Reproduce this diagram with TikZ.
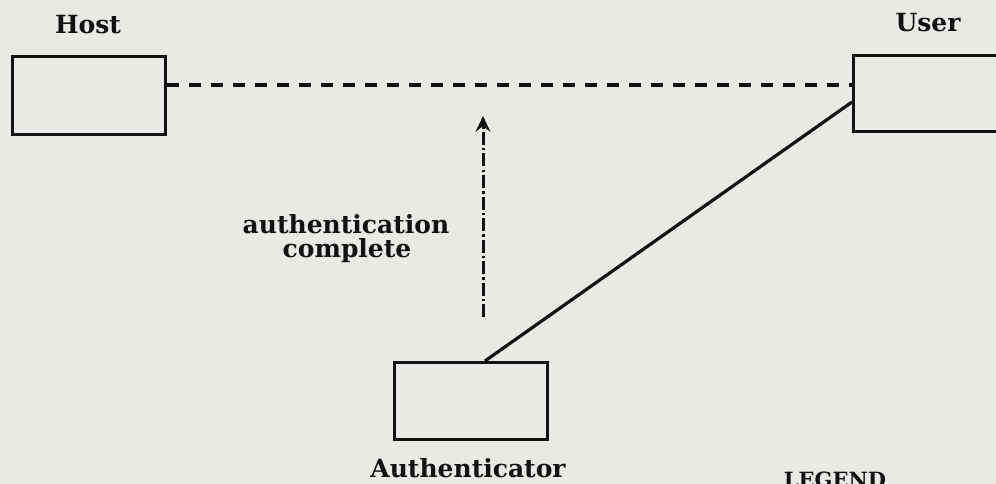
\documentclass[tikz,border=0pt]{standalone}
\usepackage{fontspec}
\setmainfont{DejaVu Serif}
\usetikzlibrary{arrows.meta}
\definecolor{paper}{RGB}{233,233,230}
\definecolor{ink}{RGB}{18,18,18}
\tikzset{
  unit/.style={draw=ink, line width=3.2pt, minimum width=153pt, minimum height=78pt, inner sep=0pt},
  lbl/.style={text=ink, inner sep=0pt, font=\bfseries\fontsize{25}{24}\selectfont},
  link/.style={draw=ink, line width=3.2pt},
  pending/.style={link, line width=3.6pt, dash pattern=on 12pt off 10pt},
  signal/.style={draw=ink, line width=3pt, dash pattern=on 13pt off 3pt on 2.5pt off 3pt,
    -{Stealth[length=16pt,width=15pt,inset=6pt]}}
}
\begin{document}
\begin{tikzpicture}[x=1pt,y=-1pt]
  % page area and paper tone
  \fill[paper] (0,0) rectangle (996,484);
  \clip (0,0) rectangle (996,484);

  % the three parties
  \node[unit, anchor=north west] (host) at (11,55) {};
  \node[unit, anchor=north west, minimum width=160pt, minimum height=76pt] (user) at (852,54) {};
  \node[unit, anchor=north west, minimum height=77pt] (auth) at (393,361) {};

  % their labels
  \node[lbl, anchor=base] (hostlbl) at (88,34) {Host};
  \node[lbl, anchor=base] (userlbl) at (928,32) {User};
  \node[lbl, anchor=base] (authlbl) at (468,477) {Authenticator};
  \node[lbl, anchor=base, font=\bfseries\fontsize{21}{24}\selectfont] (legend) at (835,487) {LEGEND};

  % host -- user session, not yet established
  \coordinate (hostside) at (host.east |- 0,85);
  \coordinate (userside) at (user.west |- 0,85);
  \draw[pending] (hostside) -- (userside);

  % user -- authenticator connection
  \coordinate (authtop) at (485,361);
  \coordinate (userlow) at (852,102);
  \draw[link] (authtop) -- (userlow);

  % completion signal
  \coordinate (sigfrom) at (483,317);
  \coordinate (sigto) at (483,116);
  \draw[signal] (sigfrom) -- (sigto);
  \node[lbl, anchor=base] (note1) at (346,233) {authentication};
  \node[lbl, anchor=base] (note2) at (347,257) {complete};
\end{tikzpicture}
\end{document}
